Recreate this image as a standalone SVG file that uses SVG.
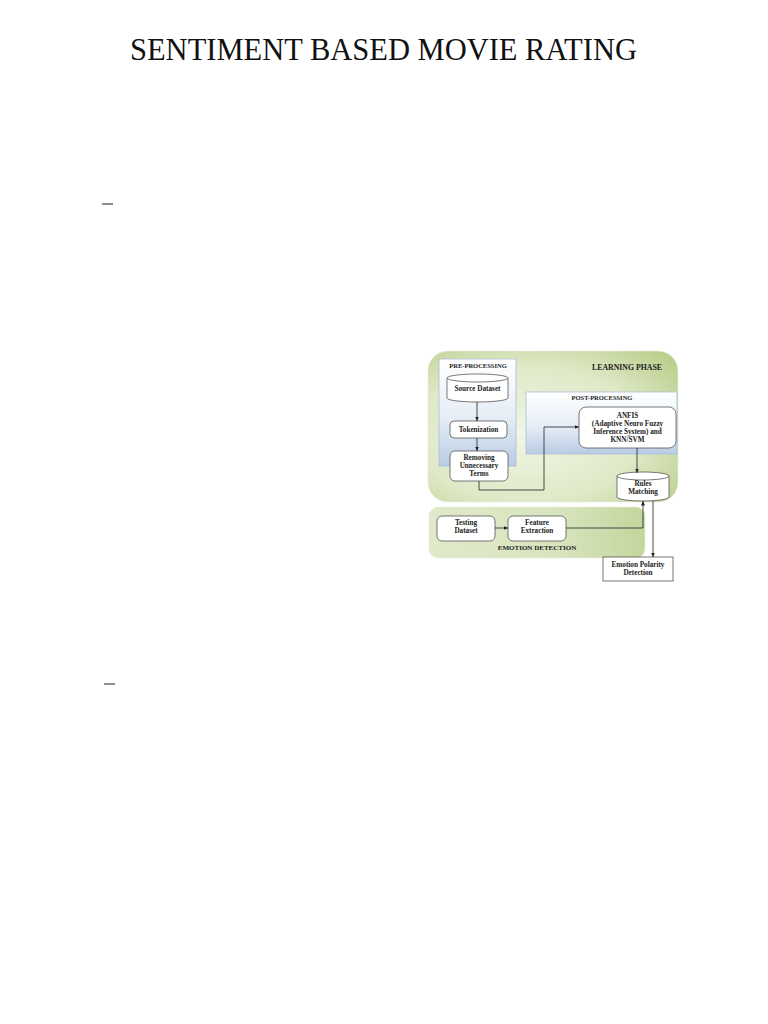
<svg xmlns="http://www.w3.org/2000/svg" width="768" height="1024" viewBox="0 0 768 1024">
<style>
.title{font-family:"Liberation Serif","Times New Roman",serif;font-size:30.5px;fill:#111}
.lbl{font-family:"Liberation Serif","Times New Roman",serif;font-weight:bold;font-size:7.2px;fill:#222;text-anchor:middle}
.hdr{font-family:"Liberation Serif","Times New Roman",serif;font-weight:bold;font-size:6.5px;fill:#222;text-anchor:middle}
.box{fill:#fff;stroke:#555;stroke-width:0.8}
.blue{fill:url(#gBlue);stroke:#a9bfd9;stroke-width:0.8}
.conn{fill:none;stroke:#222;stroke-width:0.8}
.dash{stroke:#444;stroke-width:1.2}
</style>
<defs>
<radialGradient id="gLearn" cx="0.4" cy="0.55" r="0.75">
<stop offset="0" stop-color="#f1f6e6"/>
<stop offset="0.6" stop-color="#dfe9c7"/>
<stop offset="1" stop-color="#bccf8e"/>
</radialGradient>
<linearGradient id="gEmo" x1="0" y1="0" x2="1" y2="0">
<stop offset="0" stop-color="#e0e9ca"/>
<stop offset="0.6" stop-color="#d8e4be"/>
<stop offset="1" stop-color="#c3d69c"/>
</linearGradient>
<linearGradient id="gBlue" x1="0" y1="0" x2="0" y2="1">
<stop offset="0" stop-color="#ffffff"/>
<stop offset="0.55" stop-color="#e6edf6"/>
<stop offset="1" stop-color="#b8cce4"/>
</linearGradient>
<marker id="arr" markerWidth="5" markerHeight="5" refX="4.5" refY="2.5" orient="auto" markerUnits="userSpaceOnUse">
<path d="M0,0.5 L4.5,2.5 L0,4.5 Z" fill="#222"/>
</marker>
</defs>
<rect width="768" height="1024" fill="#fff"/>
<text class="title" x="383.5" y="60" text-anchor="middle">SENTIMENT BASED MOVIE RATING</text>
<line class="dash" x1="102" y1="204" x2="113" y2="204"/>
<line class="dash" x1="104" y1="684" x2="115" y2="684"/>

<g id="learning-phase">
<rect x="428" y="351" width="250" height="151" rx="20" fill="url(#gLearn)" stroke="#e8efdc" stroke-width="0.6"/>
<text class="hdr" x="627" y="370" style="font-size:7.8px">LEARNING PHASE</text>
</g>
<g id="pre-processing">
<rect class="blue" x="439" y="359" width="77" height="107"/>
<text class="hdr" x="478" y="368">PRE-PROCESSING</text>
</g>
<g id="post-processing">
<rect class="blue" x="526" y="392" width="151" height="62"/>
<text class="hdr" x="602" y="400">POST-PROCESSING</text>
</g>
<g id="emotion-detection">
<rect x="429" y="507" width="216" height="51" rx="9" fill="url(#gEmo)" stroke="#e8efdc" stroke-width="0.6"/>
<text class="hdr" x="537" y="550" style="font-size:7px">EMOTION DETECTION</text>
</g>

<g id="source-dataset">
<path class="box" d="M447,378 A30.5,4 0 0 1 508,378 V398 A30.5,4 0 0 1 447,398 Z"/>
<path class="box" style="fill:none" d="M447,378 A30.5,4 0 0 0 508,378"/>
<text class="lbl" x="477.5" y="390.5">Source Dataset</text>
</g>
<g id="tokenization">
<rect class="box" x="450" y="421" width="57" height="17" rx="4"/>
<text class="lbl" x="478.5" y="431.5">Tokenization</text>
</g>
<g id="removing">
<rect class="box" x="450" y="451" width="58" height="30" rx="5"/>
<text class="lbl" x="479" y="460">Removing</text>
<text class="lbl" x="479" y="468">Unnecessary</text>
<text class="lbl" x="479" y="476">Terms</text>
</g>
<g id="anfis">
<rect class="box" x="579" y="407" width="97" height="41" rx="7"/>
<text class="lbl" x="627.5" y="418">ANFIS</text>
<text class="lbl" x="627.5" y="426">(Adaptive Neuro Fuzzy</text>
<text class="lbl" x="627.5" y="434">Inference System) and</text>
<text class="lbl" x="627.5" y="442">KNN/SVM</text>
</g>
<g id="rules-matching">
<path class="box" d="M617,476 A26,4 0 0 1 669,476 V497 A26,4 0 0 1 617,497 Z"/>
<path class="box" style="fill:none" d="M617,476 A26,4 0 0 0 669,476"/>
<text class="lbl" x="643" y="485.5">Rules</text>
<text class="lbl" x="643" y="493.5">Matching</text>
</g>
<g id="testing-dataset">
<rect class="box" x="437" y="516" width="58" height="25" rx="5"/>
<text class="lbl" x="466" y="525">Testing</text>
<text class="lbl" x="466" y="533">Dataset</text>
</g>
<g id="feature-extraction">
<rect class="box" x="508" y="516" width="58" height="25" rx="5"/>
<text class="lbl" x="537" y="525">Feature</text>
<text class="lbl" x="537" y="533">Extraction</text>
</g>
<g id="emotion-polarity">
<rect class="box" x="603" y="557" width="70" height="24"/>
<text class="lbl" x="638" y="566.5">Emotion Polarity</text>
<text class="lbl" x="638" y="574.5">Detection</text>
</g>

<g id="connectors">
<path class="conn" d="M477,402 V421" marker-end="url(#arr)"/>
<path class="conn" d="M477,438 V451" marker-end="url(#arr)"/>
<path class="conn" d="M479,481 V490 H544 V427 H579" marker-end="url(#arr)"/>
<path class="conn" d="M637,448 V473" marker-end="url(#arr)"/>
<path class="conn" d="M495,528 H508" marker-end="url(#arr)"/>
<path class="conn" d="M566,528 H643 V501" marker-end="url(#arr)"/>
<path class="conn" d="M653,501 V557" marker-end="url(#arr)"/>
</g>
</svg>
